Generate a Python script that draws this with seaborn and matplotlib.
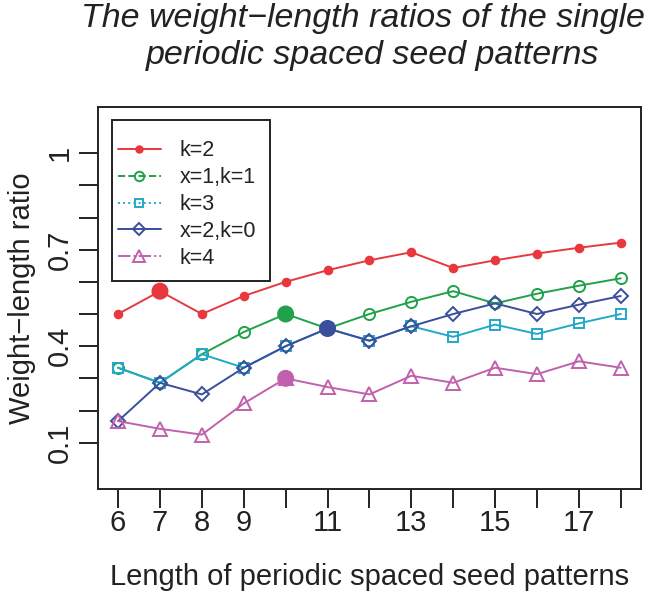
import matplotlib

matplotlib.use("Agg")
import matplotlib.pyplot as plt
import pandas as pd
import seaborn as sns
from matplotlib.lines import Line2D
from matplotlib.patches import Rectangle


LENGTHS = [6, 7, 8, 9, 10, 11, 12, 13, 14, 15, 16, 17, 18]
LABELED_LENGTHS = [6, 7, 8, 9, 11, 13, 15, 17]

SERIES = ["k=2", "x=1,k=1", "k=3", "x=2,k=0", "k=4"]
K2 = [0.500, 0.571, 0.500, 0.556, 0.600, 0.636, 0.667, 0.692, 0.643, 0.667, 0.688, 0.706, 0.722]
X1K1 = [0.333, 0.286, 0.375, 0.444, 0.500, 0.455, 0.500, 0.538, 0.571, 0.533, 0.563, 0.588, 0.611]
K3 = [0.333, 0.286, 0.375, 0.333, 0.400, 0.455, 0.417, 0.462, 0.429, 0.467, 0.438, 0.471, 0.500]
X2K0 = [0.167, 0.286, 0.250, 0.333, 0.400, 0.455, 0.417, 0.462, 0.500, 0.533, 0.500, 0.529, 0.556]
K4 = [0.167, 0.143, 0.125, 0.222, 0.300, 0.273, 0.250, 0.308, 0.286, 0.333, 0.313, 0.353, 0.333]

# highlighted (filled, enlarged) points
HIGHLIGHT_SERIES = ["k=2", "x=1,k=1", "x=2,k=0", "k=4"]
HIGHLIGHT_X = [7, 10, 11, 10]
HIGHLIGHT_Y = [0.571, 0.500, 0.455, 0.300]

Y_TICKS = [0.1, 0.2, 0.3, 0.4, 0.5, 0.6, 0.7, 0.8, 0.9, 1.0]
Y_LABELED = {0.1: "0.1", 0.4: "0.4", 0.7: "0.7", 1.0: "1"}

COLORS = {
    "k=2": "#e8383d",
    "x=1,k=1": "#1fa24a",
    "k=3": "#22a9c9",
    "x=2,k=0": "#3a4e9e",
    "k=4": "#c160ac",
}
STYLES = {
    "k=2": dict(marker="o", ms=5.5, filled=True, ls="-"),
    "x=1,k=1": dict(marker="o", ms=8, filled=False, ls="--"),
    "k=3": dict(marker="s", ms=7.5, filled=False, ls=":"),
    "x=2,k=0": dict(marker="D", ms=7.5, filled=False, ls="-"),
    "k=4": dict(marker="^", ms=10, filled=False, ls="-."),
}
INK = "#222222"


def main() -> None:
    sns.set_style("ticks")
    plt.rcParams["font.family"] = ["Liberation Sans", "DejaVu Sans"]

    values = [K2, X1K1, K3, X2K0, K4]
    df = pd.DataFrame(
        [(name, x, y) for name, ys in zip(SERIES, values) for x, y in zip(LENGTHS, ys)],
        columns=["series", "length", "ratio"],
    )

    fig = plt.figure(figsize=(6.51, 5.92), dpi=100)
    ax = fig.add_axes([0.1505, 0.174, 0.834, 0.6455])

    for name in SERIES:
        st = STYLES[name]
        c = COLORS[name]
        sns.lineplot(
            data=df[df["series"] == name],
            x="length",
            y="ratio",
            ax=ax,
            color=c,
            linewidth=1.4,
            marker=st["marker"],
            markersize=st["ms"],
            markerfacecolor=c if st["filled"] else "none",
            markeredgecolor=c,
            markeredgewidth=1.4,
        )

    sns.scatterplot(
        x=HIGHLIGHT_X,
        y=HIGHLIGHT_Y,
        hue=HIGHLIGHT_SERIES,
        palette=COLORS,
        s=150,
        linewidth=0,
        legend=False,
        ax=ax,
        zorder=5,
    )

    ax.set_xlim(5.52, 18.48)
    ax.set_ylim(-0.044, 1.144)
    ax.set_xticks(LENGTHS)
    ax.set_xticklabels([str(v) if v in LABELED_LENGTHS else "" for v in LENGTHS])
    ax.set_yticks(Y_TICKS)
    ax.set_yticklabels([Y_LABELED.get(round(v, 1), "") for v in Y_TICKS])
    ax.tick_params(axis="both", length=13.5, width=1.4, color=INK,
                   labelsize=21, labelcolor=INK)
    ax.tick_params(axis="x", pad=1)
    ax.tick_params(axis="y", pad=4)
    for lab in ax.get_yticklabels():
        lab.set_rotation(90)
        lab.set_va("center")
    for sp in ax.spines.values():
        sp.set_visible(True)
        sp.set_linewidth(1.4)
        sp.set_color(INK)

    ax.set_xlabel("")
    ax.set_ylabel("")
    fig.text(0.567, 1 - 577 / 592, "Length of periodic spaced seed patterns",
             ha="center", va="center", fontsize=21, color=INK)
    fig.text(22 / 651, 0.5 * (0.174 + 0.8195), "Weight\u2212length ratio",
             ha="center", va="center", rotation=90, fontsize=21, color=INK)

    fig.text(0.558, 1 - 27 / 592, "The weight\u2212length ratios of the single",
             ha="center", va="baseline", fontsize=24.5, fontstyle="italic", color=INK)
    fig.text(0.572, 1 - 64 / 592, "periodic spaced seed patterns",
             ha="center", va="baseline", fontsize=24.5, fontstyle="italic", color=INK)

    # legend box drawn separately so its padding can match the reference
    ax.add_patch(Rectangle((0.0258, 0.5445), 0.291, 0.4215, transform=ax.transAxes,
                           facecolor="white", edgecolor=INK, linewidth=1.4, zorder=6))
    handles = []
    for name in SERIES:
        st = STYLES[name]
        c = COLORS[name]
        handles.append(Line2D(
            [], [], color=c, linewidth=1.4, linestyle=st["ls"], marker=st["marker"],
            markersize=st["ms"] * 0.85, markerfacecolor=c if st["filled"] else "none",
            markeredgecolor=c, markeredgewidth=1.4,
        ))
    leg = ax.legend(
        handles, SERIES, loc="upper left", bbox_to_anchor=(0.0368, 0.912),
        fontsize=15.5, frameon=False, borderaxespad=0, borderpad=0,
        handlelength=2.0, handletextpad=0.85, labelspacing=0.27,
    )
    leg.set_zorder(7)
    for t in leg.get_texts():
        t.set_color(INK)

    fig.savefig("out.png", dpi=100)
    plt.close(fig)


if __name__ == "__main__":
    main()
